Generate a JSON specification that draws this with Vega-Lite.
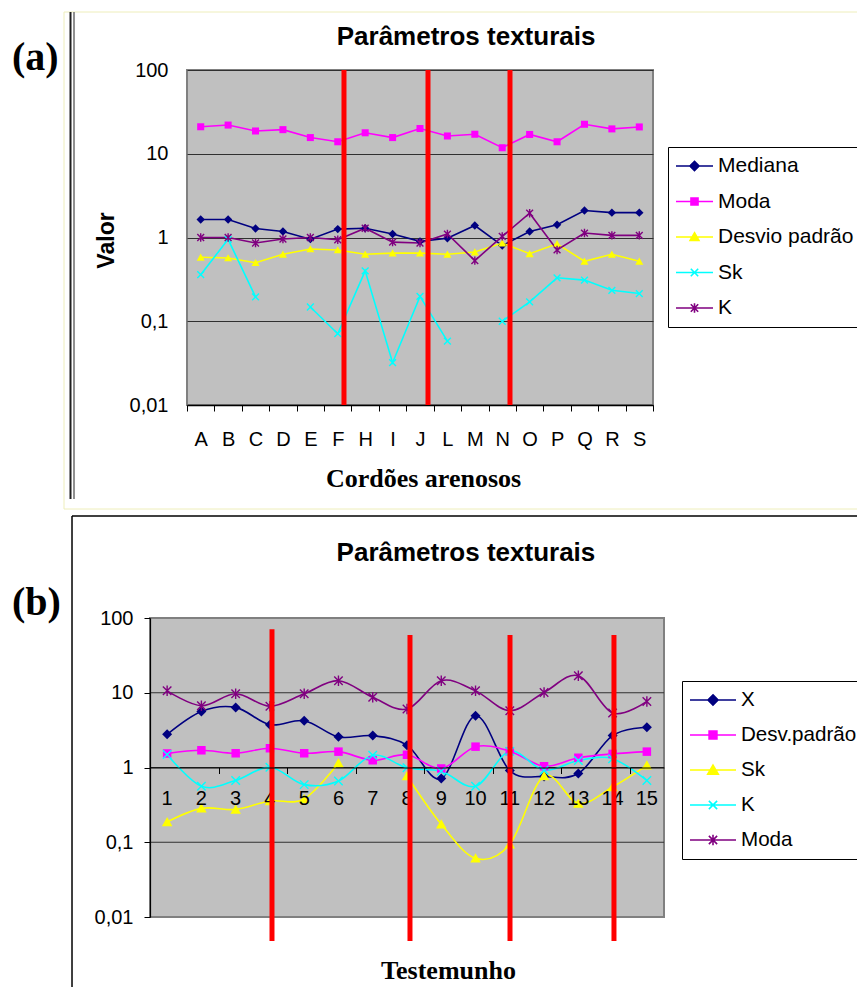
{
  "$schema": "https://vega.github.io/schema/vega-lite/v6.json",
  "background": "white",
  "padding": {"left": 11, "top": 10, "right": 0, "bottom": 0},
  "spacing": 4,
  "resolve": {"scale": {"color": "independent"}, "legend": {"color": "independent"}},
  "config": {
    "view": {"fill": "#C0C0C0", "stroke": "#808080", "strokeWidth": 2},
    "axis": {"labelFont": "Liberation Sans", "labelColor": "black", "labelFontSize": 20, "titleColor": "black", "labelOverlap": false},
    "legend": {"labelFont": "Liberation Sans", "labelColor": "black", "labelFontSize": 21}
  },
  "vconcat": [
    {
      "width": 466,
      "height": 335,
      "resolve": {"scale": {"x": "independent"}},
      "layer": [
        {
          "data": {"values": [
            {"cordao": "A", "serie": "Mediana", "valor": 1.64}, {"cordao": "B", "serie": "Mediana", "valor": 1.64}, {"cordao": "C", "serie": "Mediana", "valor": 1.28}, {"cordao": "D", "serie": "Mediana", "valor": 1.18}, {"cordao": "E", "serie": "Mediana", "valor": 0.955}, {"cordao": "F", "serie": "Mediana", "valor": 1.26}, {"cordao": "H", "serie": "Mediana", "valor": 1.29}, {"cordao": "I", "serie": "Mediana", "valor": 1.1}, {"cordao": "J", "serie": "Mediana", "valor": 0.9}, {"cordao": "L", "serie": "Mediana", "valor": 0.98}, {"cordao": "M", "serie": "Mediana", "valor": 1.39}, {"cordao": "N", "serie": "Mediana", "valor": 0.8}, {"cordao": "O", "serie": "Mediana", "valor": 1.18}, {"cordao": "P", "serie": "Mediana", "valor": 1.42}, {"cordao": "Q", "serie": "Mediana", "valor": 2.1}, {"cordao": "R", "serie": "Mediana", "valor": 1.98}, {"cordao": "S", "serie": "Mediana", "valor": 1.98},
            {"cordao": "A", "serie": "Moda", "valor": 21}, {"cordao": "B", "serie": "Moda", "valor": 22}, {"cordao": "C", "serie": "Moda", "valor": 18.7}, {"cordao": "D", "serie": "Moda", "valor": 19.4}, {"cordao": "E", "serie": "Moda", "valor": 15.6}, {"cordao": "F", "serie": "Moda", "valor": 13.9}, {"cordao": "H", "serie": "Moda", "valor": 17.8}, {"cordao": "I", "serie": "Moda", "valor": 15.6}, {"cordao": "J", "serie": "Moda", "valor": 20}, {"cordao": "L", "serie": "Moda", "valor": 16.3}, {"cordao": "M", "serie": "Moda", "valor": 17.1}, {"cordao": "N", "serie": "Moda", "valor": 11.8}, {"cordao": "O", "serie": "Moda", "valor": 17}, {"cordao": "P", "serie": "Moda", "valor": 13.9}, {"cordao": "Q", "serie": "Moda", "valor": 22.5}, {"cordao": "R", "serie": "Moda", "valor": 19.8}, {"cordao": "S", "serie": "Moda", "valor": 20.9},
            {"cordao": "A", "serie": "Desvio padrão", "valor": 0.58}, {"cordao": "B", "serie": "Desvio padrão", "valor": 0.57}, {"cordao": "C", "serie": "Desvio padrão", "valor": 0.5}, {"cordao": "D", "serie": "Desvio padrão", "valor": 0.63}, {"cordao": "E", "serie": "Desvio padrão", "valor": 0.73}, {"cordao": "F", "serie": "Desvio padrão", "valor": 0.71}, {"cordao": "H", "serie": "Desvio padrão", "valor": 0.63}, {"cordao": "I", "serie": "Desvio padrão", "valor": 0.65}, {"cordao": "J", "serie": "Desvio padrão", "valor": 0.65}, {"cordao": "L", "serie": "Desvio padrão", "valor": 0.63}, {"cordao": "M", "serie": "Desvio padrão", "valor": 0.67}, {"cordao": "N", "serie": "Desvio padrão", "valor": 0.86}, {"cordao": "O", "serie": "Desvio padrão", "valor": 0.64}, {"cordao": "P", "serie": "Desvio padrão", "valor": 0.84}, {"cordao": "Q", "serie": "Desvio padrão", "valor": 0.52}, {"cordao": "R", "serie": "Desvio padrão", "valor": 0.63}, {"cordao": "S", "serie": "Desvio padrão", "valor": 0.52},
            {"cordao": "A", "serie": "Sk", "valor": 0.36}, {"cordao": "B", "serie": "Sk", "valor": 0.95}, {"cordao": "C", "serie": "Sk", "valor": 0.195}, {"cordao": "D", "serie": "Sk", "valor": null}, {"cordao": "E", "serie": "Sk", "valor": 0.148}, {"cordao": "F", "serie": "Sk", "valor": 0.071}, {"cordao": "H", "serie": "Sk", "valor": 0.4}, {"cordao": "I", "serie": "Sk", "valor": 0.032}, {"cordao": "J", "serie": "Sk", "valor": 0.198}, {"cordao": "L", "serie": "Sk", "valor": 0.058}, {"cordao": "M", "serie": "Sk", "valor": null}, {"cordao": "N", "serie": "Sk", "valor": 0.1}, {"cordao": "O", "serie": "Sk", "valor": 0.17}, {"cordao": "P", "serie": "Sk", "valor": 0.33}, {"cordao": "Q", "serie": "Sk", "valor": 0.31}, {"cordao": "R", "serie": "Sk", "valor": 0.234}, {"cordao": "S", "serie": "Sk", "valor": 0.214},
            {"cordao": "A", "serie": "K", "valor": 1.0}, {"cordao": "B", "serie": "K", "valor": 1.0}, {"cordao": "C", "serie": "K", "valor": 0.86}, {"cordao": "D", "serie": "K", "valor": 0.96}, {"cordao": "E", "serie": "K", "valor": 1.0}, {"cordao": "F", "serie": "K", "valor": 0.94}, {"cordao": "H", "serie": "K", "valor": 1.29}, {"cordao": "I", "serie": "K", "valor": 0.88}, {"cordao": "J", "serie": "K", "valor": 0.86}, {"cordao": "L", "serie": "K", "valor": 1.1}, {"cordao": "M", "serie": "K", "valor": 0.53}, {"cordao": "N", "serie": "K", "valor": 1.03}, {"cordao": "O", "serie": "K", "valor": 1.95}, {"cordao": "P", "serie": "K", "valor": 0.71}, {"cordao": "Q", "serie": "K", "valor": 1.13}, {"cordao": "R", "serie": "K", "valor": 1.06}, {"cordao": "S", "serie": "K", "valor": 1.06}
          ]},
          "encoding": {
            "x": {"field": "cordao", "type": "nominal", "scale": {"type": "band", "domain": ["A","B","C","D","E","F","H","I","J","L","M","N","O","P","Q","R","S"], "paddingInner": 0, "paddingOuter": 0},
              "axis": {"tickBand": "extent", "ticks": true, "tickSize": 6, "tickColor": "black", "domainColor": "black", "domainWidth": 1.5, "labelAngle": 0, "labelPadding": 18, "grid": false, "title": "Cordões arenosos", "titleFont": "Liberation Serif", "titleFontSize": 26, "titleFontWeight": "bold", "titleX": 236, "titleY": 81, "titleBaseline": "alphabetic"}},
            "y": {"field": "valor", "type": "quantitative", "scale": {"type": "log", "domain": [0.01, 100], "nice": false},
              "axis": {"values": [0.01, 0.1, 1, 10, 100], "labelExpr": "datum.value >= 1 ? format(datum.value, 'd') : replace(format(datum.value, '.2~f'), '.', ',')", "grid": true, "gridColor": "#303030", "gridWidth": 1, "gridOpacity": 1, "domain": false, "ticks": false, "tickSize": 0, "labelPadding": 19, "title": "Valor", "titleFont": "Liberation Sans", "titleFontSize": 23, "titleFontWeight": "bold", "titleAngle": 270, "titleX": -74, "titleY": 170, "titleBaseline": "alphabetic", "titleAlign": "center"}},
            "color": {"field": "serie", "type": "nominal", "scale": {"domain": ["Mediana", "Moda", "Desvio padrão", "Sk", "K"], "range": ["#000080", "#FF00FF", "#FFFF00", "#00FFFF", "#800080"]},
              "legend": {"orient": "none", "legendX": 481, "legendY": 77, "title": null, "strokeColor": "black", "fillColor": "white", "padding": 7, "rowPadding": 11.5, "symbolSize": 1369, "labelOffset": 4, "clipHeight": 24, "labelFontSize": 21,
                "encode": {"symbols": {"update": {
                  "shape": {"signal": "datum.value === 'Mediana' ? 'M-1,0H1M0,-0.25L0.25,0L0,0.25L-0.25,0Z' : datum.value === 'Moda' ? 'M-1,0H1M-0.19,-0.19H0.19V0.19H-0.19Z' : datum.value === 'Desvio padrão' ? 'M-1,0H1M0,-0.23L0.24,0.19L-0.24,0.19Z' : datum.value === 'Sk' ? 'M-1,0H1M-0.2,-0.2L0.2,0.2M-0.2,0.2L0.2,-0.2' : 'M-1,0H1M-0.2,-0.2L0.2,0.2M-0.2,0.2L0.2,-0.2M0,-0.26V0.26'"},
                  "fill": {"signal": "datum.value === 'Mediana' ? '#000080' : datum.value === 'Moda' ? '#FF00FF' : datum.value === 'Desvio padrão' ? '#FFFF00' : datum.value === 'Sk' ? '#00FFFF' : '#800080'"},
                  "stroke": {"signal": "datum.value === 'Mediana' ? '#000080' : datum.value === 'Moda' ? '#FF00FF' : datum.value === 'Desvio padrão' ? '#FFFF00' : datum.value === 'Sk' ? '#00FFFF' : '#800080'"},
                  "strokeWidth": {"value": 1.6},
                  "size": {"value": 1369},
                  "opacity": {"value": 1},
                  "strokeDash": {"value": []}
                }}}
              }}
          },
          "layer": [
            {"mark": {"type": "line", "strokeWidth": 1.6, "invalid": "break-paths-filter-domains"}},
            {"transform": [{"filter": {"field": "serie", "equal": "Mediana"}}], "mark": {"type": "point", "shape": "M0,-1.05L1.05,0L0,1.05L-1.05,0Z", "filled": true, "opacity": 1, "size": 64, "strokeWidth": 0}},
            {"transform": [{"filter": {"field": "serie", "equal": "Moda"}}], "mark": {"type": "point", "shape": "M-0.88,-0.88H0.88V0.88H-0.88Z", "filled": true, "opacity": 1, "size": 64, "strokeWidth": 0}},
            {"transform": [{"filter": {"field": "serie", "equal": "Desvio padrão"}}], "mark": {"type": "point", "shape": "M0,-0.95L1,0.85L-1,0.85Z", "filled": true, "opacity": 1, "size": 64, "strokeWidth": 0}},
            {"transform": [{"filter": {"field": "serie", "equal": "Sk"}}, {"filter": "isValid(datum.valor)"}], "mark": {"type": "point", "shape": "M-0.85,-0.85L0.85,0.85M-0.85,0.85L0.85,-0.85", "filled": false, "opacity": 1, "size": 64, "strokeWidth": 1.4}},
            {"transform": [{"filter": {"field": "serie", "equal": "K"}}], "mark": {"type": "point", "shape": "M-0.85,-0.85L0.85,0.85M-0.85,0.85L0.85,-0.85M0,-1.05V1.05", "filled": false, "opacity": 1, "size": 64, "strokeWidth": 1.4}}
          ]
        },
        {
          "layer": [
            {
              "data": {"values": [{"xq": 5.727}, {"xq": 8.792}, {"xq": 11.783}]},
              "mark": {"type": "rule", "color": "#FF0000", "strokeWidth": 5},
              "encoding": {
                "x": {"field": "xq", "type": "quantitative", "scale": {"domain": [0, 17], "nice": false, "zero": false}, "axis": null},
                "y": {"datum": 100, "type": "quantitative", "scale": {"type": "log", "domain": [0.01, 100], "nice": false}},
                "y2": {"datum": 0.01}
              }
            },
            {
              "data": {"values": [
                {"xa": -4.487, "xb": 25, "ya": 492.6, "yb": 492.6},
                {"xa": -4.487, "xb": -4.487, "ya": 492.6, "yb": 0.000573},
                {"xa": -4.487, "xb": 25, "ya": 0.000573, "yb": 0.000573}
              ]},
              "mark": {"type": "rule", "color": "#EEEEBB", "strokeWidth": 1},
              "encoding": {
                "x": {"field": "xa", "type": "quantitative", "scale": {"domain": [0, 17], "nice": false, "zero": false}, "axis": null},
                "x2": {"field": "xb"},
                "y": {"field": "ya", "type": "quantitative", "scale": {"type": "log", "domain": [0.01, 100], "nice": false}},
                "y2": {"field": "yb"}
              }
            },
            {
              "data": {"values": [{"xa": -4.25, "ya": 492.6, "yb": 0.000754}]},
              "mark": {"type": "rule", "color": "#202020", "strokeWidth": 2},
              "encoding": {
                "x": {"field": "xa", "type": "quantitative", "scale": {"domain": [0, 17], "nice": false, "zero": false}, "axis": null},
                "y": {"field": "ya", "type": "quantitative", "scale": {"type": "log", "domain": [0.01, 100], "nice": false}},
                "y2": {"field": "yb"}
              }
            },
            {
              "data": {"values": [{"xa": -4.122, "ya": 492.6, "yb": 0.000754}]},
              "mark": {"type": "rule", "color": "#909090", "strokeWidth": 2},
              "encoding": {
                "x": {"field": "xa", "type": "quantitative", "scale": {"domain": [0, 17], "nice": false, "zero": false}, "axis": null},
                "y": {"field": "ya", "type": "quantitative", "scale": {"type": "log", "domain": [0.01, 100], "nice": false}},
                "y2": {"field": "yb"}
              }
            },
            {
              "data": {"values": [{"texto": "Parâmetros texturais", "xa": 10.18, "ya": 197.2}]},
              "mark": {"type": "text", "font": "Liberation Sans", "fontSize": 26, "fontWeight": "bold", "align": "center", "baseline": "alphabetic", "color": "black"},
              "encoding": {
                "x": {"field": "xa", "type": "quantitative", "scale": {"domain": [0, 17], "nice": false, "zero": false}, "axis": null},
                "y": {"field": "ya", "type": "quantitative", "scale": {"type": "log", "domain": [0.01, 100], "nice": false}},
                "text": {"field": "texto"}
              }
            },
            {
              "data": {"values": [{"texto": "(a)", "xa": -6.384, "ya": 100}]},
              "mark": {"type": "text", "font": "Liberation Serif", "fontSize": 40, "fontWeight": "bold", "align": "left", "baseline": "alphabetic", "color": "black"},
              "encoding": {
                "x": {"field": "xa", "type": "quantitative", "scale": {"domain": [0, 17], "nice": false, "zero": false}, "axis": null},
                "y": {"field": "ya", "type": "quantitative", "scale": {"type": "log", "domain": [0.01, 100], "nice": false}},
                "text": {"field": "texto"}
              }
            }
          ]
        }
      ]
    },
    {
      "width": 477,
      "height": 299,
      "view": {"fill": null, "stroke": null},
      "layer": [
        {
          "data": {"values": [{}]},
          "mark": {"type": "rect", "fill": "#C0C0C0", "stroke": "#808080", "strokeWidth": 2},
          "encoding": {
            "x": {"datum": 0.5, "type": "quantitative", "scale": {"domain": [0.5, 15.5], "range": [-37, 477], "nice": false, "zero": false}},
            "x2": {"datum": 15.5},
            "y": {"datum": 0.01, "type": "quantitative", "scale": {"type": "log", "domain": [0.01, 100], "nice": false}},
            "y2": {"datum": 100}
          }
        },
        {
          "data": {"values": [{"g": 0.1}, {"g": 1}, {"g": 10}]},
          "mark": {"type": "rule", "color": "#303030", "strokeWidth": 1},
          "encoding": {
            "x": {"datum": 0.5, "type": "quantitative", "scale": {"domain": [0.5, 15.5], "range": [-37, 477], "nice": false, "zero": false}},
            "x2": {"datum": 15.5},
            "y": {"field": "g", "type": "quantitative", "scale": {"type": "log", "domain": [0.01, 100], "nice": false}}
          }
        },
        {
          "data": {"values": [
            {"t": 1, "serie": "X", "valor": 2.78}, {"t": 2, "serie": "X", "valor": 5.63}, {"t": 3, "serie": "X", "valor": 6.37}, {"t": 4, "serie": "X", "valor": 3.74}, {"t": 5, "serie": "X", "valor": 4.23}, {"t": 6, "serie": "X", "valor": 2.57}, {"t": 7, "serie": "X", "valor": 2.67}, {"t": 8, "serie": "X", "valor": 1.99}, {"t": 9, "serie": "X", "valor": 0.71}, {"t": 10, "serie": "X", "valor": 4.93}, {"t": 11, "serie": "X", "valor": 0.91}, {"t": 12, "serie": "X", "valor": 0.76}, {"t": 13, "serie": "X", "valor": 0.83}, {"t": 14, "serie": "X", "valor": 2.67}, {"t": 15, "serie": "X", "valor": 3.45},
            {"t": 1, "serie": "Desv.padrão", "valor": 1.54}, {"t": 2, "serie": "Desv.padrão", "valor": 1.7}, {"t": 3, "serie": "Desv.padrão", "valor": 1.55}, {"t": 4, "serie": "Desv.padrão", "valor": 1.81}, {"t": 5, "serie": "Desv.padrão", "valor": 1.55}, {"t": 6, "serie": "Desv.padrão", "valor": 1.63}, {"t": 7, "serie": "Desv.padrão", "valor": 1.25}, {"t": 8, "serie": "Desv.padrão", "valor": 1.48}, {"t": 9, "serie": "Desv.padrão", "valor": 0.97}, {"t": 10, "serie": "Desv.padrão", "valor": 1.9}, {"t": 11, "serie": "Desv.padrão", "valor": 1.65}, {"t": 12, "serie": "Desv.padrão", "valor": 1.04}, {"t": 13, "serie": "Desv.padrão", "valor": 1.35}, {"t": 14, "serie": "Desv.padrão", "valor": 1.52}, {"t": 15, "serie": "Desv.padrão", "valor": 1.63},
            {"t": 1, "serie": "Sk", "valor": 0.187}, {"t": 2, "serie": "Sk", "valor": 0.284}, {"t": 3, "serie": "Sk", "valor": 0.275}, {"t": 4, "serie": "Sk", "valor": 0.356}, {"t": 5, "serie": "Sk", "valor": 0.38}, {"t": 6, "serie": "Sk", "valor": 1.15}, {"t": 7, "serie": "Sk", "valor": null}, {"t": 8, "serie": "Sk", "valor": 0.77}, {"t": 9, "serie": "Sk", "valor": 0.174}, {"t": 10, "serie": "Sk", "valor": 0.061}, {"t": 11, "serie": "Sk", "valor": 0.094}, {"t": 12, "serie": "Sk", "valor": 0.77}, {"t": 13, "serie": "Sk", "valor": 0.33}, {"t": 14, "serie": "Sk", "valor": 0.55}, {"t": 15, "serie": "Sk", "valor": 1.07},
            {"t": 1, "serie": "K", "valor": 1.49}, {"t": 2, "serie": "K", "valor": 0.56}, {"t": 3, "serie": "K", "valor": 0.67}, {"t": 4, "serie": "K", "valor": 1.01}, {"t": 5, "serie": "K", "valor": 0.59}, {"t": 6, "serie": "K", "valor": 0.66}, {"t": 7, "serie": "K", "valor": 1.46}, {"t": 8, "serie": "K", "valor": 0.99}, {"t": 9, "serie": "K", "valor": 0.89}, {"t": 10, "serie": "K", "valor": 0.56}, {"t": 11, "serie": "K", "valor": 1.65}, {"t": 12, "serie": "K", "valor": 0.92}, {"t": 13, "serie": "K", "valor": 1.24}, {"t": 14, "serie": "K", "valor": 1.31}, {"t": 15, "serie": "K", "valor": 0.67},
            {"t": 1, "serie": "Moda", "valor": 10.6}, {"t": 2, "serie": "Moda", "valor": 6.7}, {"t": 3, "serie": "Moda", "valor": 9.7}, {"t": 4, "serie": "Moda", "valor": 6.6}, {"t": 5, "serie": "Moda", "valor": 9.7}, {"t": 6, "serie": "Moda", "valor": 14.5}, {"t": 7, "serie": "Moda", "valor": 8.7}, {"t": 8, "serie": "Moda", "valor": 6.05}, {"t": 9, "serie": "Moda", "valor": 14.5}, {"t": 10, "serie": "Moda", "valor": 10.6}, {"t": 11, "serie": "Moda", "valor": 5.75}, {"t": 12, "serie": "Moda", "valor": 10.1}, {"t": 13, "serie": "Moda", "valor": 16.9}, {"t": 14, "serie": "Moda", "valor": 5.36}, {"t": 15, "serie": "Moda", "valor": 7.66}
          ]},
          "encoding": {
            "x": {"field": "t", "type": "quantitative", "scale": {"domain": [0.5, 15.5], "range": [-37, 477], "nice": false, "zero": false},
              "axis": {"values": [0.5, 1.5, 2.5, 3.5, 4.5, 5.5, 6.5, 7.5, 8.5, 9.5, 10.5, 11.5, 12.5, 13.5, 14.5, 15.5], "labels": false, "offset": -149.5, "zindex": 1, "ticks": true, "tickSize": 6, "tickColor": "black", "domainColor": "black", "domainWidth": 1.2, "grid": false, "title": "Testemunho", "titleFont": "Liberation Serif", "titleFontSize": 26, "titleFontWeight": "bold", "titleX": 261, "titleY": 211, "titleBaseline": "alphabetic"}},
            "y": {"field": "valor", "type": "quantitative", "scale": {"type": "log", "domain": [0.01, 100], "nice": false},
              "axis": {"values": [0.01, 0.1, 1, 10, 100], "labelExpr": "datum.value >= 1 ? format(datum.value, 'd') : replace(format(datum.value, '.2~f'), '.', ',')", "grid": false, "offset": 37, "zindex": 1, "domain": true, "domainColor": "black", "domainWidth": 1.2, "ticks": true, "tickSize": 6, "tickColor": "black", "labelPadding": 11, "title": null}},
            "color": {"field": "serie", "type": "nominal", "scale": {"domain": ["X", "Desv.padrão", "Sk", "K", "Moda"], "range": ["#000080", "#FF00FF", "#FFFF00", "#00FFFF", "#800080"]},
              "legend": {"orient": "none", "legendX": 495, "legendY": 63, "title": null, "strokeColor": "black", "fillColor": "white", "padding": 7, "rowPadding": 11, "symbolSize": 2116, "labelOffset": 4, "clipHeight": 24, "labelFontSize": 20.6,
                "encode": {"symbols": {"update": {
                  "shape": {"signal": "datum.value === 'X' ? 'M-1,0H1M0,-0.22L0.22,0L0,0.22L-0.22,0Z' : datum.value === 'Desv.padrão' ? 'M-1,0H1M-0.17,-0.17H0.17V0.17H-0.17Z' : datum.value === 'Sk' ? 'M-1,0H1M0,-0.21L0.23,0.18L-0.23,0.18Z' : datum.value === 'K' ? 'M-1,0H1M-0.18,-0.18L0.18,0.18M-0.18,0.18L0.18,-0.18' : 'M-1,0H1M-0.18,-0.18L0.18,0.18M-0.18,0.18L0.18,-0.18M0,-0.23V0.23'"},
                  "fill": {"signal": "datum.value === 'X' ? '#000080' : datum.value === 'Desv.padrão' ? '#FF00FF' : datum.value === 'Sk' ? '#FFFF00' : datum.value === 'K' ? '#00FFFF' : '#800080'"},
                  "stroke": {"signal": "datum.value === 'X' ? '#000080' : datum.value === 'Desv.padrão' ? '#FF00FF' : datum.value === 'Sk' ? '#FFFF00' : datum.value === 'K' ? '#00FFFF' : '#800080'"},
                  "strokeWidth": {"value": 1.6},
                  "size": {"value": 2116},
                  "opacity": {"value": 1},
                  "strokeDash": {"value": []}
                }}}
              }}
          },
          "layer": [
            {"mark": {"type": "line", "strokeWidth": 1.6, "interpolate": "cardinal", "invalid": "break-paths-filter-domains"}},
            {"transform": [{"filter": {"field": "serie", "equal": "X"}}], "mark": {"type": "point", "shape": "M0,-1L1,0L0,1L-1,0Z", "filled": true, "opacity": 1, "size": 100, "strokeWidth": 0}},
            {"transform": [{"filter": {"field": "serie", "equal": "Desv.padrão"}}], "mark": {"type": "point", "shape": "M-0.85,-0.85H0.85V0.85H-0.85Z", "filled": true, "opacity": 1, "size": 100, "strokeWidth": 0}},
            {"transform": [{"filter": {"field": "serie", "equal": "Sk"}}, {"filter": "isValid(datum.valor)"}], "mark": {"type": "point", "shape": "M0,-1L1.05,0.85L-1.05,0.85Z", "filled": true, "opacity": 1, "size": 100, "strokeWidth": 0}},
            {"transform": [{"filter": {"field": "serie", "equal": "K"}}], "mark": {"type": "point", "shape": "M-0.85,-0.85L0.85,0.85M-0.85,0.85L0.85,-0.85", "filled": false, "opacity": 1, "size": 100, "strokeWidth": 1.4}},
            {"transform": [{"filter": {"field": "serie", "equal": "Moda"}}], "mark": {"type": "point", "shape": "M-0.85,-0.85L0.85,0.85M-0.85,0.85L0.85,-0.85M0,-1.05V1.05", "filled": false, "opacity": 1, "size": 100, "strokeWidth": 1.4}},
            {"transform": [{"filter": {"field": "serie", "equal": "X"}}], "mark": {"type": "text", "font": "Liberation Sans", "fontSize": 20, "baseline": "top", "align": "center", "dy": 21},
              "encoding": {"y": {"datum": 1, "type": "quantitative"}, "text": {"field": "t", "type": "quantitative"}, "color": {"value": "black"}}}
          ]
        },
        {
          "data": {"values": [{"xq": 4.06, "topo": 70.6}, {"xq": 8.087, "topo": 59.3}, {"xq": 11.006, "topo": 59.3}, {"xq": 14.04, "topo": 59.3}]},
          "mark": {"type": "rule", "color": "#FF0000", "strokeWidth": 5},
          "encoding": {
            "x": {"field": "xq", "type": "quantitative", "scale": {"domain": [0.5, 15.5], "range": [-37, 477], "nice": false, "zero": false}},
            "y": {"field": "topo", "type": "quantitative", "scale": {"type": "log", "domain": [0.01, 100], "nice": false}},
            "y2": {"datum": 0.00477}
          }
        },
        {
          "data": {"values": [
            {"xa": -1.776, "xb": 22, "ya": 2315, "yb": 2315},
            {"xa": -1.776, "xb": -1.776, "ya": 2315, "yb": 0.001055}
          ]},
          "mark": {"type": "rule", "color": "black", "strokeWidth": 1.5},
          "encoding": {
            "x": {"field": "xa", "type": "quantitative", "scale": {"domain": [0.5, 15.5], "range": [-37, 477], "nice": false, "zero": false}},
            "x2": {"field": "xb"},
            "y": {"field": "ya", "type": "quantitative", "scale": {"type": "log", "domain": [0.01, 100], "nice": false}},
            "y2": {"field": "yb"}
          }
        },
        {
          "data": {"values": [{"texto": "Parâmetros texturais", "xa": 9.72, "ya": 578.8}]},
          "mark": {"type": "text", "font": "Liberation Sans", "fontSize": 26, "fontWeight": "bold", "align": "center", "baseline": "alphabetic", "color": "black"},
          "encoding": {
            "x": {"field": "xa", "type": "quantitative", "scale": {"domain": [0.5, 15.5], "range": [-37, 477], "nice": false, "zero": false}},
            "y": {"field": "ya", "type": "quantitative", "scale": {"type": "log", "domain": [0.01, 100], "nice": false}},
            "text": {"field": "texto"}
          }
        },
        {
          "data": {"values": [{"texto": "(b)", "xa": -3.527, "ya": 109.7}]},
          "mark": {"type": "text", "font": "Liberation Serif", "fontSize": 40, "fontWeight": "bold", "align": "left", "baseline": "alphabetic", "color": "black"},
          "encoding": {
            "x": {"field": "xa", "type": "quantitative", "scale": {"domain": [0.5, 15.5], "range": [-37, 477], "nice": false, "zero": false}},
            "y": {"field": "ya", "type": "quantitative", "scale": {"type": "log", "domain": [0.01, 100], "nice": false}},
            "text": {"field": "texto"}
          }
        }
      ]
    }
  ]
}
